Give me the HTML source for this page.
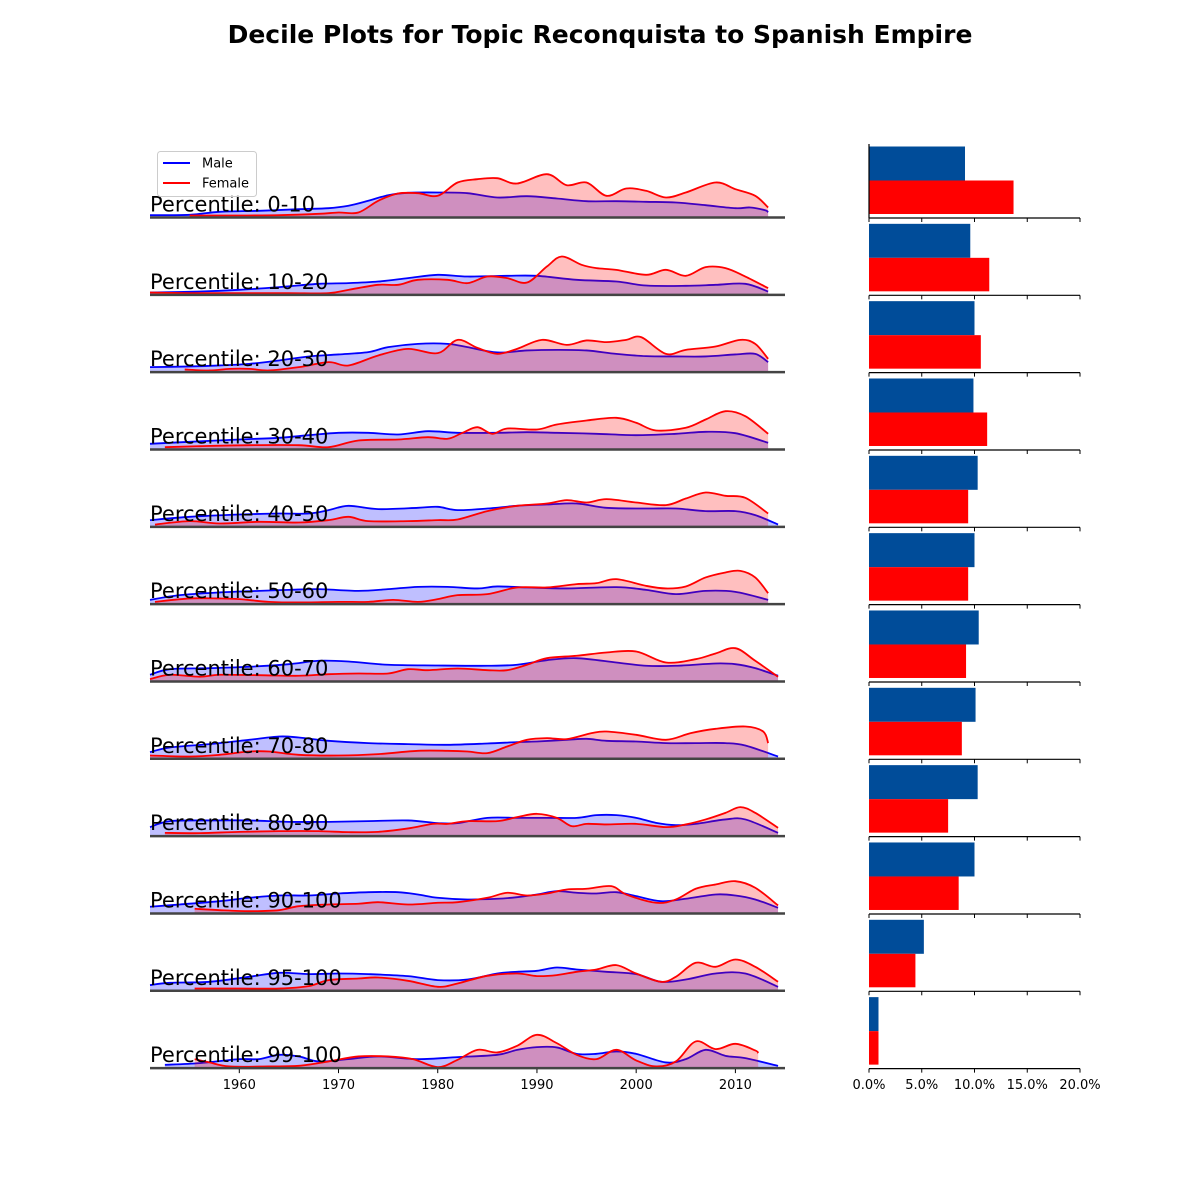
<!DOCTYPE html>
<html><head><meta charset="utf-8"><style>
body{margin:0;background:#fff}
svg{display:block;font-family:"DejaVu Sans","Liberation Sans",sans-serif}
</style></head><body>
<svg id="chart" width="1200" height="1200" viewBox="0 0 1200 1200">
<text x="600" y="43" text-anchor="middle" font-size="25" font-weight="bold">Decile Plots for Topic Reconquista to Spanish Empire</text>
</svg>
<script>
const rowLabels = ["0-10","10-20","20-30","30-40","40-50","50-60","60-70","70-80","80-90","90-100","95-100","99-100"];
const xTicks = [1960,1970,1980,1990,2000,2010];
const pctTicks = [0,5,10,15,20];
const maleShare = [9.1,9.6,10.0,9.9,10.3,10.0,10.4,10.1,10.3,10.0,5.2,0.9];
const femaleShare = [13.7,11.4,10.6,11.2,9.4,9.4,9.2,8.8,7.5,8.5,4.4,0.9];
const maleDensity = [
[[1951,2.3],[1955,2.7],[1958,5.7],[1962,6.7],[1966,8.3],[1969,9.3],[1971,11.7],[1973,16.7],[1975,22.3],[1977,24.7],[1980,25],[1983,24.3],[1986,20],[1989,21.3],[1992,19],[1995,16.3],[1998,16.3],[2001,15.7],[2004,15],[2007,12.3],[2010,9.3],[2011.5,10],[2013,7.3],[2013.3,5.3]],
[[1951,2.3],[1956,3.3],[1960,5],[1964,7.7],[1968,11],[1971,11.7],[1974,13.3],[1977,16.7],[1980,20],[1983,18.3],[1987,19],[1990,19],[1994,15],[1998,13.3],[2001,9.3],[2005,9],[2008,10],[2011,11],[2013.3,3.3]],
[[1951,5],[1955,5.7],[1958,6.7],[1961,8.3],[1964,11.7],[1967,15.7],[1970,17.7],[1973,20],[1975,25],[1978,28.3],[1981,28.3],[1983,25],[1986,19.7],[1989,21.7],[1992,22.3],[1995,21.7],[1998,18.3],[2001,16],[2004,15.7],[2007,15.7],[2010,17.7],[2012,18.3],[2013.3,10]],
[[1951,5.7],[1955,7.7],[1960,10],[1964,11.7],[1967,14.3],[1970,16.7],[1973,16.7],[1976,15],[1979,18.3],[1982,16.7],[1986,16.7],[1989,17.3],[1992,16.7],[1996,15.7],[2000,14.3],[2004,15.7],[2007,17.7],[2010,16.3],[2013.3,6.7]],
[[1951,6.7],[1955,10],[1960,12.3],[1964,13.3],[1967,13.3],[1969,16.7],[1971,21],[1974,17.7],[1978,19],[1980,20],[1982,16.7],[1985,18.3],[1988,21],[1991,22.3],[1994,23.3],[1997,19],[2001,18.3],[2004,18.3],[2007,15.7],[2010,15.7],[2012,11.7],[2014.3,2.3]],
[[1951,4.3],[1954,9],[1958,11.7],[1962,13.3],[1965,14.3],[1968,15],[1972,13.3],[1975,15],[1978,17.3],[1981,17.3],[1984,15.7],[1986,17.7],[1989,16.7],[1993,15.7],[1998,17],[2001,14.3],[2004,10],[2007,13.3],[2010,12.3],[2013.3,4.3]],
[[1951,6.7],[1953,12.3],[1957,13.3],[1961,14.7],[1965,17.3],[1968,20.7],[1971,20],[1975,16.7],[1980,16],[1985,15.7],[1988,16.7],[1991,21.3],[1994,23.3],[1998,19],[2001,15.7],[2004,15.7],[2008,18],[2010,17.3],[2012,13.3],[2014.3,5.7]],
[[1951,6.7],[1953,11.3],[1957,14.7],[1961,19],[1964,22.3],[1966,21.3],[1969,18],[1973,15.7],[1977,14.7],[1981,14],[1985,15.3],[1988,16.7],[1990,17.3],[1993,19],[1995,20],[1997,18],[2000,17.3],[2003,15.7],[2006,15.7],[2009,15.7],[2011,13.3],[2014.3,2.3]],
[[1951,9],[1953,15],[1957,15.7],[1961,15.7],[1965,14.3],[1969,14.3],[1973,15],[1977,15.7],[1980,13],[1982,13],[1985,18.3],[1988,18.3],[1991,18.3],[1994,18.3],[1996,21],[1998,21],[2000,18.3],[2002,13.3],[2004,11],[2006,12.3],[2009,16.7],[2011,16.7],[2014.3,3.3]],
[[1951,6.7],[1954,9],[1958,12.3],[1961,15.7],[1964,18],[1967,18],[1970,20],[1973,21.3],[1976,21.3],[1978,19],[1980,15.7],[1983,14],[1986,14.7],[1988,16.3],[1990,19],[1992,22.3],[1994,20.7],[1996,20],[1998,21.3],[2000,17.3],[2002.5,12.3],[2005,14.7],[2008,19],[2010,18],[2012,14],[2014.3,5.7]],
[[1951,5.7],[1953,8],[1957,9],[1961,14],[1964,18],[1967,16.7],[1970,17.3],[1973,16.7],[1977,14.7],[1980,10.7],[1983,11.3],[1986,17.3],[1988,19],[1990,20],[1992,23.3],[1994,21.3],[1997,19],[2000,16.7],[2002.5,9],[2005,11.3],[2008,17.3],[2011,17.3],[2014.3,4]],
[[1952.5,3.3],[1956,5],[1960,9],[1962,9],[1964,13.3],[1966,11.7],[1968,6.7],[1971,9],[1974,11.7],[1978,9],[1982,11],[1986,13.3],[1988,18.3],[1990,21],[1992,20.7],[1994,14.3],[1996,14.3],[1998,16.7],[2000,14.3],[2003,5.7],[2005,9],[2007,18.3],[2009,12.3],[2011,10],[2014.3,2.3]]
];
const femaleDensity = [
[[1955,2],[1960,2],[1964,2.3],[1968,3.7],[1970,5],[1972,5],[1974,16.7],[1976,24],[1978,24.3],[1980,21.7],[1982,35],[1984,38.3],[1986,39.3],[1988,34],[1991,43.3],[1993,32.3],[1995,35],[1997,21.7],[1999,29],[2001,26.7],[2003,20],[2005,25],[2008,35],[2010,28.3],[2012,21.7],[2013.3,10]],
[[1951,2.3],[1955,1.7],[1960,1.7],[1965,1.7],[1969,1.7],[1971,5],[1974,10],[1976,10],[1978,15],[1981,15],[1983,11.7],[1985,18.3],[1987,16.7],[1989,12.3],[1991,28.3],[1992.5,38.3],[1994.5,30],[1996,26.7],[1998,25],[2001,20],[2003,25],[2005,19],[2007,27.7],[2009,26.7],[2011,18.3],[2013.3,6.7]],
[[1954.5,2.7],[1957,1.7],[1959,3.3],[1961,3.3],[1963,1.7],[1966,5],[1969,10],[1971,6.7],[1974,16.7],[1977,23.3],[1980,19],[1982,32.3],[1984,24.3],[1986,18.3],[1988,23.3],[1990.5,32.3],[1993,27.3],[1995,31.7],[1997,30],[1999,32.3],[2000.5,35],[2003,18.3],[2005,22.3],[2008,25.7],[2010.5,32.3],[2012,28.3],[2013.3,13.3]],
[[1952.5,2.3],[1956,3.3],[1961,4.3],[1966,4.3],[1969,2.3],[1972,9],[1976,10],[1979,12.3],[1981,10.7],[1982.5,16.7],[1984,22.3],[1985.5,15.7],[1987,21],[1990,20],[1992,25],[1995,29],[1998,31.7],[2000,26.7],[2002,19],[2005,21.7],[2007,30],[2009,38.3],[2011,33.3],[2013.3,15.7]],
[[1951.5,2.3],[1955,5.7],[1958,3.3],[1962,5],[1966,4.3],[1969,6.7],[1971,10],[1973,5.7],[1977,5.7],[1980,6.7],[1982,7.3],[1985,15.7],[1988,21],[1991,23.3],[1993,26.7],[1995,24.3],[1997,27.7],[2000,24.3],[2003,21.7],[2005,28.3],[2007,34.3],[2009,31],[2011,29],[2013.3,13.3]],
[[1951.5,2.3],[1955,5.7],[1958,5.7],[1960,5],[1963,2.3],[1966,1.7],[1970,2.3],[1973,2.3],[1975.5,4.3],[1978,2.3],[1980,5],[1982,9],[1985,10],[1988,16.7],[1991,16.7],[1994,20],[1996,21],[1998,25],[2001,18.3],[2003,15.7],[2005,17.7],[2007,26.7],[2009,31.7],[2010.5,33.3],[2012,26.7],[2013.3,11]],
[[1951,2.3],[1953,6.7],[1956,4.7],[1958,6.7],[1962,6.3],[1966,5.7],[1969,7.3],[1972,8],[1975,8],[1977,12.3],[1979,11.3],[1982,13],[1985,11.3],[1987,11.3],[1989,16.7],[1991,23.3],[1994,25.7],[1997,29],[2000,30],[2003,19],[2006,22.3],[2008,28],[2010,33.3],[2012,20.7],[2014.3,4.7]],
[[1951,3.3],[1955,2.3],[1958,4],[1961,7.3],[1963,7.3],[1966,4],[1970,3.3],[1974,4.7],[1978,8],[1981,8],[1983,7.3],[1985,5.7],[1987,12.3],[1989,19],[1991,20.7],[1993,19.7],[1995.5,25.7],[1997,27.3],[2000,24],[2003,19],[2005.5,25.7],[2008,30],[2011,32.3],[2012.8,27.3],[2013.3,15.7]],
[[1952.5,3.3],[1956,3],[1960,4.3],[1964,5],[1968,5],[1971,4],[1974,4.3],[1977,7.7],[1979.5,12.3],[1981,12.3],[1983,15],[1986,15],[1988,19],[1990,22.3],[1992,18.3],[1993.5,10],[1995,12.3],[1997,11.7],[2000,12.3],[2003,9],[2005,11.7],[2007,16.7],[2009,23.3],[2010.5,29],[2012,23.3],[2014.3,8.3]],
[[1955.5,4.7],[1958,3.3],[1961,2.3],[1964,3.3],[1966,7.3],[1969,9],[1972,9.7],[1974,11.3],[1977,9],[1980,10.7],[1982,11.3],[1985,15.7],[1987,20.7],[1989,18],[1991,20],[1993,24],[1995,24.7],[1997.5,27.3],[1999,19],[2002,10.7],[2004,14],[2006,24.7],[2008,29],[2010,32.3],[2012,25.7],[2014.3,8]],
[[1955.5,2.3],[1960,2.3],[1964,2.3],[1967,4.7],[1969,10.7],[1972,12.3],[1974,13.3],[1977,10],[1980,4],[1982,7.3],[1985,15],[1988,17.3],[1990,14.7],[1992,15.7],[1994,19],[1996,21.3],[1998,25.7],[2000,17.3],[2002.5,9],[2004,14],[2006,28],[2008,24],[2010,31.3],[2012,24],[2014.3,9]],
[[1955.5,9],[1957,5.7],[1959,1.7],[1963,1.7],[1966,2.3],[1969,6.7],[1972,11.7],[1975,11.7],[1977.5,9],[1980,1],[1982,8.3],[1984,18.3],[1986,15.7],[1988,22.3],[1990,33.3],[1992,25],[1994,13.3],[1996,9],[1998,18.3],[2000,7.7],[2002,1.7],[2004,6.7],[2006,26.7],[2008,19],[2010,24.3],[2012,17.7],[2012.3,15]]
];

const NS = "http://www.w3.org/2000/svg";
const svg = document.getElementById("chart");
const yearMin = 1951, yearMax = 2015, plotL = 150, plotR = 785;
const xYear = y => plotL + (y - yearMin) / (yearMax - yearMin) * (plotR - plotL);
const base0 = 217.5, rowStep = 77.33;
const baseY = i => base0 + i * rowStep;
const yDen = (i, v) => baseY(i) - v;
const barL = 869, barR = 1080;
const xPct = p => barL + p / 20 * (barR - barL);

function mk(tag, attrs) {
  const el = document.createElementNS(NS, tag);
  for (const k in attrs) el.setAttribute(k, attrs[k]);
  svg.appendChild(el);
  return el;
}
function smoothPath(pts) {
  let d = "M" + pts[0][0].toFixed(2) + "," + pts[0][1].toFixed(2);
  for (let i = 0; i < pts.length - 1; i++) {
    const p0 = pts[Math.max(0, i - 1)], p1 = pts[i], p2 = pts[i + 1], p3 = pts[Math.min(pts.length - 1, i + 2)];
    const c1x = p1[0] + (p2[0] - p0[0]) / 6, c1y = p1[1] + (p2[1] - p0[1]) / 6;
    const c2x = p2[0] - (p3[0] - p1[0]) / 6, c2y = p2[1] - (p3[1] - p1[1]) / 6;
    d += "C" + c1x.toFixed(2) + "," + c1y.toFixed(2) + " " + c2x.toFixed(2) + "," + c2y.toFixed(2) + " " + p2[0].toFixed(2) + "," + p2[1].toFixed(2);
  }
  return d;
}
function drawSeries(i, data, color, fill, name) {
  const pts = data.map(p => [xYear(p[0]), yDen(i, p[1])]);
  const line = smoothPath(pts);
  const area = line + "L" + pts[pts.length - 1][0].toFixed(2) + "," + baseY(i) + "L" + pts[0][0].toFixed(2) + "," + baseY(i) + "Z";
  const a = mk("path", {d: area, fill: fill, "fill-opacity": "0.25", stroke: "none"});
  
  
  const l = mk("path", {d: line, fill: "none", stroke: color, "stroke-width": "1.8"});
  
  
}

for (let i = 0; i < rowLabels.length; i++) {
  drawSeries(i, maleDensity[i], "#0000ff", "#0000ff", "male-density-" + rowLabels[i]);
  drawSeries(i, femaleDensity[i], "#ff0000", "#ff0000", "female-density-" + rowLabels[i]);
  const bl = mk("line", {x1: plotL, x2: plotR, y1: baseY(i), y2: baseY(i), stroke: "#444", "stroke-width": "2.5"});
  
  
  const t = mk("text", {x: plotL, y: baseY(i) - 6, "font-size": "21", fill: "#000"});
  t.textContent = "Percentile: " + rowLabels[i];
  
  

  const b = baseY(i);
  const mb = mk("rect", {x: barL, y: b - 71, width: xPct(maleShare[i]) - barL, height: 34, fill: "#004c99"});
  
  
  const fb = mk("rect", {x: barL, y: b - 37, width: xPct(femaleShare[i]) - barL, height: 33.5, fill: "#ff0000"});
  
  
  const sp = mk("line", {x1: barL, x2: barR, y1: b + 0.5, y2: b + 0.5, stroke: "#000", "stroke-width": "1.2"});
  
  
  for (const p of pctTicks) {
    const tk = mk("line", {x1: xPct(p), x2: xPct(p), y1: b + 0.5, y2: b + 4.5, stroke: "#000", "stroke-width": "1"});
    
    
  }
}
const ls = mk("line", {x1: barL, x2: barL, y1: 144, y2: baseY(0) + 0.5, stroke: "#000", "stroke-width": "1.2"});



const lastB = baseY(rowLabels.length - 1);
for (const yr of xTicks) {
  const tk = mk("line", {x1: xYear(yr), x2: xYear(yr), y1: lastB + 1, y2: lastB + 5, stroke: "#000", "stroke-width": "1"});
  
  
  const tl = mk("text", {x: xYear(yr), y: lastB + 21, "font-size": "13", "text-anchor": "middle"});
  tl.textContent = yr;
  
  
}
for (const p of pctTicks) {
  const tl = mk("text", {x: xPct(p), y: lastB + 21, "font-size": "13", "text-anchor": "middle"});
  tl.textContent = p.toFixed(1) + "%";
  
  
}

const lg = mk("rect", {x: 157.5, y: 151.5, width: 99, height: 45, rx: 3, fill: "#fff", "fill-opacity": "0.8", stroke: "#ccc"});


const legendItems = [["Male", "#0000ff", 163], ["Female", "#ff0000", 183]];
for (const it of legendItems) {
  const l = mk("line", {x1: 163, x2: 190, y1: it[2], y2: it[2], stroke: it[1], "stroke-width": "2"});
  
  
  const t = mk("text", {x: 202, y: it[2] + 4.5, "font-size": "13"});
  t.textContent = it[0];
  
  
}
</script>
</body></html>
